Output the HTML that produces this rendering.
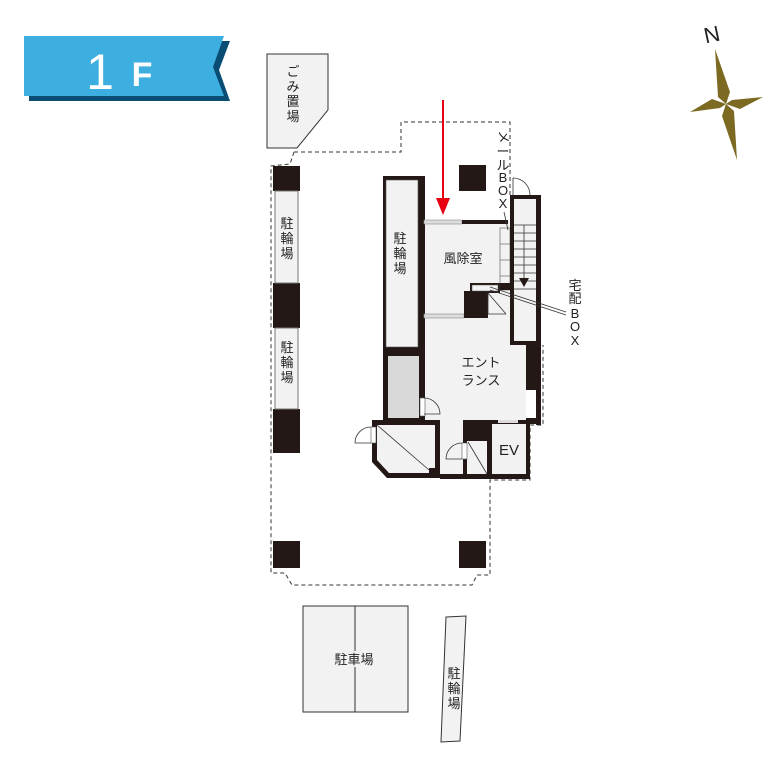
<!DOCTYPE html>
<html><head><meta charset="utf-8"><style>
body{margin:0;background:#fff}
svg{display:block}
text{font-family:"Liberation Sans","Noto Sans CJK JP",sans-serif;fill:#222}
</style></head><body>
<svg width="777" height="777" viewBox="0 0 777 777">
<!-- banner -->
<polygon points="29,41 230,41 219,70 230,101 29,101" fill="#0a4d74"/>
<polygon points="24,36 224,36 213,67 224,96 24,96" fill="#3daee0"/>
<text x="100" y="89" font-size="50" style="fill:#fff" text-anchor="middle">1</text>
<text x="142" y="86" font-size="34" style="fill:#fff;font-weight:bold" text-anchor="middle">F</text>

<!-- compass -->
<text x="712" y="42" font-size="22" text-anchor="middle" transform="rotate(-12 712 35)">N</text>
<g fill="#7c6a22">
<polygon points="715,49 730,92 726,104 718,97"/>
<polygon points="737,160 722,116 726,104 734,111"/>
<polygon points="690,112 712,99 726,104 720,108"/>
<polygon points="763,97 740,109 726,104 732,100"/>
</g>

<!-- garbage -->
<polygon points="267,54 328,54 328,110 297,148 267,148" fill="#f2f2f2" stroke="#333" stroke-width="1"/>
<g font-size="13" text-anchor="middle"><text x="293" y="76">ご</text><text x="293" y="91">み</text><text x="293" y="106">置</text><text x="293" y="121">場</text></g>

<!-- dashed outline -->
<g fill="none" stroke="#333" stroke-width="1" stroke-dasharray="4,3">
<polyline points="294,152 290,164 271,166 271,573 285,573 292,585 472,585 477,575 490,575 490,480 530,480 530,425 543,425 543,345"/>
<polyline points="294,152 401,152 401,122 510,122 510,195"/>
</g>

<!-- columns -->
<g fill="#231815">
<rect x="273" y="166" width="27" height="25"/>
<rect x="273" y="283" width="27" height="45"/>
<rect x="273" y="409" width="27" height="44"/>
<rect x="273" y="541" width="27" height="27"/>
<rect x="459" y="541" width="27" height="27"/>
<rect x="459" y="165" width="27" height="26"/>
</g>
<g fill="#f2f2f2" stroke="#777" stroke-width="1">
<rect x="275" y="191" width="23" height="92"/>
<rect x="275" y="328" width="23" height="81"/>
</g>
<g font-size="13" text-anchor="middle">
<text x="287" y="228">駐</text><text x="287" y="243">輪</text><text x="287" y="258">場</text>
<text x="287" y="352">駐</text><text x="287" y="367">輪</text><text x="287" y="382">場</text>
</g>

<!-- building fill -->
<polygon points="424,221 510,221 510,345 526,345 526,420 530,420 530,478 387,478 372,462 372,420 424,420" fill="#f2f2f2"/>

<!-- inner bike parking -->
<rect x="383" y="176" width="39" height="174" fill="#231815"/>
<rect x="386" y="180" width="32" height="167" fill="#f2f2f2" stroke="#555" stroke-width="0.6"/>
<g font-size="13" text-anchor="middle"><text x="400" y="243">駐</text><text x="400" y="258">輪</text><text x="400" y="273">場</text></g>
<!-- gray room -->
<rect x="383" y="350" width="41" height="72" fill="#231815"/>
<rect x="388" y="356" width="31" height="62" fill="#d9d9d9"/>
<!-- west wall -->
<rect x="420" y="176" width="5" height="246" fill="#231815"/>
<rect x="420" y="398" width="5" height="18" fill="#fff" stroke="#555" stroke-width="0.6"/>
<path d="M424,398 A16,16 0 0 1 440,414 L424,414" fill="none" stroke="#333" stroke-width="0.8"/>

<!-- vestibule top wall -->
<rect x="424" y="220" width="38" height="4" fill="#ddd" stroke="#888" stroke-width="0.6"/>
<rect x="462" y="220" width="46" height="4" fill="#231815"/>
<!-- vestibule bottom window -->
<rect x="424" y="314" width="40" height="4" fill="#ddd" stroke="#888" stroke-width="0.6"/>
<rect x="464" y="291" width="24" height="27" fill="#231815"/>
<rect x="470" y="283" width="30" height="10" fill="#231815"/>
<rect x="472" y="285" width="26" height="6" fill="#f2f2f2" stroke="#555" stroke-width="0.5"/>
<polyline points="488,293 488,314 506,314" fill="none" stroke="#333" stroke-width="0.8"/>
<line x1="488" y1="293" x2="506" y2="314" stroke="#333" stroke-width="0.8"/>
<!-- mailbox grid -->
<rect x="500" y="228" width="10" height="62" fill="#f2f2f2" stroke="#555" stroke-width="0.6"/>
<g stroke="#555" stroke-width="0.6"><line x1="500" y1="244" x2="510" y2="244"/><line x1="500" y1="260" x2="510" y2="260"/><line x1="500" y1="276" x2="510" y2="276"/></g>
<rect x="500" y="283" width="10" height="7" fill="#231815"/>

<!-- stairs -->
<rect x="510" y="195" width="31" height="150" fill="#231815"/>
<rect x="514" y="199" width="22" height="142" fill="#f2f2f2"/>
<g stroke="#333" stroke-width="0.8">
<line x1="514" y1="225" x2="536" y2="225"/><line x1="514" y1="233" x2="536" y2="233"/><line x1="514" y1="241" x2="536" y2="241"/><line x1="514" y1="249" x2="536" y2="249"/><line x1="514" y1="257" x2="536" y2="257"/><line x1="514" y1="265" x2="536" y2="265"/><line x1="514" y1="273" x2="536" y2="273"/><line x1="514" y1="281" x2="536" y2="281"/><line x1="514" y1="289" x2="536" y2="289"/>
<line x1="524" y1="225" x2="524" y2="282"/>
</g>
<polygon points="519,278 529,278 524,287" fill="#231815"/>
<path d="M513,195 L513,178 A17,17 0 0 1 530,195" fill="none" stroke="#333" stroke-width="0.8"/>
<rect x="526" y="345" width="15" height="45" fill="#231815"/>
<rect x="536" y="345" width="5" height="80" fill="#231815"/>
<rect x="526" y="418" width="15" height="6" fill="#231815"/>

<!-- bottom rooms -->
<polygon points="372,420 440,420 440,478 387,478 372,462" fill="#231815"/>
<polygon points="377,425 435,425 435,468 429,468 429,473 389,473 377,460" fill="#f2f2f2"/>
<line x1="377" y1="425" x2="429" y2="470" stroke="#333" stroke-width="0.8"/>
<rect x="371" y="427" width="5" height="16" fill="#fff" stroke="#555" stroke-width="0.6"/>
<path d="M371,427 A16,16 0 0 0 355,443 L371,443" fill="none" stroke="#333" stroke-width="0.8"/>
<rect x="440" y="474" width="25" height="5" fill="#231815"/>
<rect x="463" y="420" width="28" height="59" fill="#231815"/>
<rect x="467" y="441" width="20" height="33" fill="#f2f2f2"/>
<line x1="468" y1="442" x2="487" y2="474" stroke="#333" stroke-width="0.8"/>
<rect x="462" y="443" width="5" height="16" fill="#fff" stroke="#555" stroke-width="0.6"/>
<path d="M462,443 A16,16 0 0 0 446,459 L462,459" fill="none" stroke="#333" stroke-width="0.8"/>
<rect x="488" y="420" width="42" height="59" fill="#231815"/>
<rect x="492" y="424" width="34" height="50" fill="#f2f2f2"/>
<rect x="498" y="420" width="20" height="3" fill="#ddd"/>
<text x="509" y="455" font-size="15" text-anchor="middle">EV</text>

<!-- labels -->
<text x="463" y="263" font-size="13" text-anchor="middle">風除室</text>
<text x="481" y="367" font-size="13" text-anchor="middle">エント</text>
<text x="481" y="385" font-size="13" text-anchor="middle">ランス</text>
<g font-size="13" text-anchor="middle">
<text x="503" y="141" transform="rotate(90 503 137)">メ</text>
<text x="503" y="156">ー</text>
<text x="503" y="170">ル</text>
<text x="503" y="182">B</text>
<text x="503" y="195">O</text>
<text x="503" y="208">X</text>
<text x="575" y="290">宅</text><text x="575" y="303">配</text><text x="575" y="318">B</text><text x="575" y="331">O</text><text x="575" y="345">X</text>
</g>
<line x1="504" y1="212" x2="508" y2="230" stroke="#333" stroke-width="0.8"/>
<line x1="490" y1="287" x2="566" y2="312" stroke="#333" stroke-width="0.8"/>
<line x1="490" y1="290" x2="566" y2="315" stroke="#333" stroke-width="0.8"/>

<!-- red arrow -->
<line x1="443" y1="100" x2="443" y2="204" stroke="#e60012" stroke-width="2"/>
<polygon points="436,198 450,198 443,215" fill="#e60012"/>

<!-- parking -->
<rect x="303" y="606" width="105" height="106" fill="#f2f2f2" stroke="#333" stroke-width="1"/>
<line x1="355" y1="606" x2="355" y2="712" stroke="#333" stroke-width="1"/>
<rect x="334" y="651" width="40" height="16" fill="#f2f2f2"/>
<text x="354" y="664" font-size="13" text-anchor="middle">駐車場</text>
<polygon points="446,617 466,616 460,741 441,742" fill="#f2f2f2" stroke="#333" stroke-width="1"/>
<g font-size="13" text-anchor="middle"><text x="454" y="678">駐</text><text x="454" y="693">輪</text><text x="454" y="708">場</text></g>
</svg>
</body></html>
